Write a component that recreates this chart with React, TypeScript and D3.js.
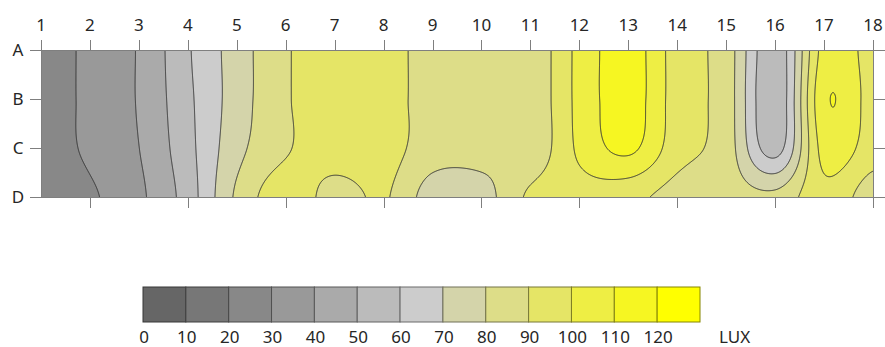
import React, { useMemo } from "react";
import * as d3 from "d3";

// Column positions (meters / stations) and row labels
const columns = [1, 2, 3, 4, 5, 6, 7, 8, 9, 10, 11, 12, 13, 14, 15, 16, 17, 18];
const rowLabels = ["A", "B", "C", "D"];

// Illuminance readings (LUX) per row
const rowA = [25, 32.5, 41, 59, 75, 89, 95, 93, 87, 86, 83, 103, 115, 95, 85, 53, 104, 96];
const rowB = [25, 32.5, 41, 58, 75, 89, 95, 93, 87, 86, 83, 103, 115, 95, 85, 52, 108.4, 96];
const rowC = [25, 32, 40, 57, 77, 89, 95, 94, 85, 84, 83, 102, 112, 94, 85, 56, 104, 95];
const rowD = [22, 28.5, 38, 55, 82, 96, 86, 91, 75, 76, 92, 96, 93, 86, 85, 83, 97, 84];

// Contour levels, colours and legend labels
const levels = [0, 10, 20, 30, 40, 50, 60, 70, 80, 90, 100, 110, 120];
const bandColors = [
  "#666666", "#777777", "#888888", "#999999", "#aaaaaa", "#bbbbbb", "#cccccc",
  "#d4d4aa", "#dddd88", "#e5e566", "#eeee44", "#f6f622", "#ffff00",
];
const legendLabels = ["0", "10", "20", "30", "40", "50", "60", "70", "80", "90", "100", "110", "120"];
const unitLabel = "LUX";

const FONT = "'Segoe UI', 'Noto Sans', 'Open Sans', sans-serif";

function catmull(p0: number, p1: number, p2: number, p3: number, t: number) {
  const t2 = t * t, t3 = t2 * t;
  return 0.5 * (2 * p1 + (-p0 + p2) * t + (2 * p0 - 5 * p1 + 4 * p2 - p3) * t2 + (-p0 + 3 * p1 - 3 * p2 + p3) * t3);
}
function interp(arr: number[], u: number) {
  const n = arr.length;
  let i = Math.floor(u);
  if (i >= n - 1) i = n - 2;
  if (i < 0) i = 0;
  const t = u - i;
  const g = (k: number) => arr[Math.max(0, Math.min(n - 1, k))];
  return catmull(g(i - 1), g(i), g(i + 1), g(i + 2), t);
}

export default function App() {
  const W = 885, H = 347;
  const x = d3.scaleLinear().domain([columns[0], columns[columns.length - 1]]).range([41, 873]);
  const y = d3.scalePoint<string>().domain(rowLabels).range([50, 197]);
  const x0 = x.range()[0], x1 = x.range()[1];
  const y0 = y(rowLabels[0])!, y1 = y(rowLabels[rowLabels.length - 1])!;

  const { paths } = useMemo(() => {
    const grid = [rowA, rowB, rowC, rowD];
    const nx = Math.round(x1 - x0) + 1;
    const ny = Math.round(y1 - y0) + 1;
    const horiz = grid.map((r) => {
      const out = new Array(nx);
      for (let i = 0; i < nx; i++) out[i] = interp(r, (i / (nx - 1)) * (r.length - 1));
      return out;
    });
    const values = new Float64Array(nx * ny);
    for (let i = 0; i < nx; i++) {
      const col = horiz.map((h) => h[i]);
      for (let j = 0; j < ny; j++) {
        values[j * nx + i] = interp(col, (j / (ny - 1)) * (col.length - 1));
      }
    }
    const contours = d3.contours().size([nx, ny]).thresholds(levels)(Array.from(values));
    const sx = (x1 - x0) / (nx - 1), sy = (y1 - y0) / (ny - 1);
    const proj = d3.geoTransform({
      point(px: number, py: number) {
        (this as any).stream.point(x0 + px * sx, y0 + py * sy);
      },
    });
    const path = d3.geoPath(proj);
    return { paths: contours.map((c) => ({ value: c.value, d: path(c as any) || "" })) };
  }, []);

  const colorFor = (v: number) => bandColors[levels.indexOf(v)];
  const legX0 = 143, legW = (700 - 143) / levels.length, legY = 287, legH = 35;

  return (
    <div style={{ position: "fixed", left: 0, top: 0, width: W, height: H, background: "#fff" }}>
      <svg width={W} height={H} style={{ display: "block" }} fontFamily={FONT}>
        <defs>
          <clipPath id="plotClip">
            <rect x={x0} y={y0} width={x1 - x0} height={y1 - y0} />
          </clipPath>
        </defs>
        <g clipPath="url(#plotClip)">
          {paths.map((p) => (
            <path key={"f" + p.value} d={p.d} fill={colorFor(p.value)} stroke="none" />
          ))}
          {paths.filter((p) => p.value > 0).map((p) => (
            <path key={"l" + p.value} d={p.d} fill="none" stroke="#333333" strokeWidth={1} />
          ))}
        </g>
        {/* plot border */}
        <rect x={x0 + 0.5} y={y0 + 0.5} width={x1 - x0} height={y1 - y0} fill="none" stroke="#7f7f7f" strokeWidth={1} />
        {/* top ticks and labels */}
        {columns.map((c) => (
          <g key={"t" + c}>
            <line x1={Math.round(x(c)) + 0.5} x2={Math.round(x(c)) + 0.5} y1={40} y2={y0} stroke="#7f7f7f" />
            <text x={x(c)} y={31} textAnchor="middle" fontSize={17} fill="#262626">{c}</text>
          </g>
        ))}
        {/* bottom ticks (every second column) */}
        {columns.filter((c) => c % 2 === 0).map((c) => (
          <line key={"b" + c} x1={Math.round(x(c)) + 0.5} x2={Math.round(x(c)) + 0.5} y1={y1} y2={y1 + 11} stroke="#7f7f7f" />
        ))}
        {/* left ticks + labels, right ticks */}
        {rowLabels.map((r) => (
          <g key={"r" + r}>
            <line x1={30} x2={x0} y1={Math.round(y(r)!) + 0.5} y2={Math.round(y(r)!) + 0.5} stroke="#7f7f7f" />
            <line x1={x1} x2={885} y1={Math.round(y(r)!) + 0.5} y2={Math.round(y(r)!) + 0.5} stroke="#7f7f7f" />
            <text x={18} y={y(r)! + 6} textAnchor="middle" fontSize={17} fill="#262626">{r}</text>
          </g>
        ))}
        {/* legend */}
        {bandColors.map((c, i) => (
          <rect key={"lg" + i} x={legX0 + i * legW} y={legY} width={legW} height={legH}
            fill={c} stroke={d3.color(c)!.darker(1.8).formatHex()} strokeWidth={1} />
        ))}
        {legendLabels.map((l, i) => (
          <text key={"ll" + i} x={legX0 + i * legW + 1} y={343} textAnchor="middle" fontSize={17} fill="#262626">{l}</text>
        ))}
        <text x={719} y={343} fontSize={17} fill="#262626">{unitLabel}</text>
      </svg>
    </div>
  );
}
